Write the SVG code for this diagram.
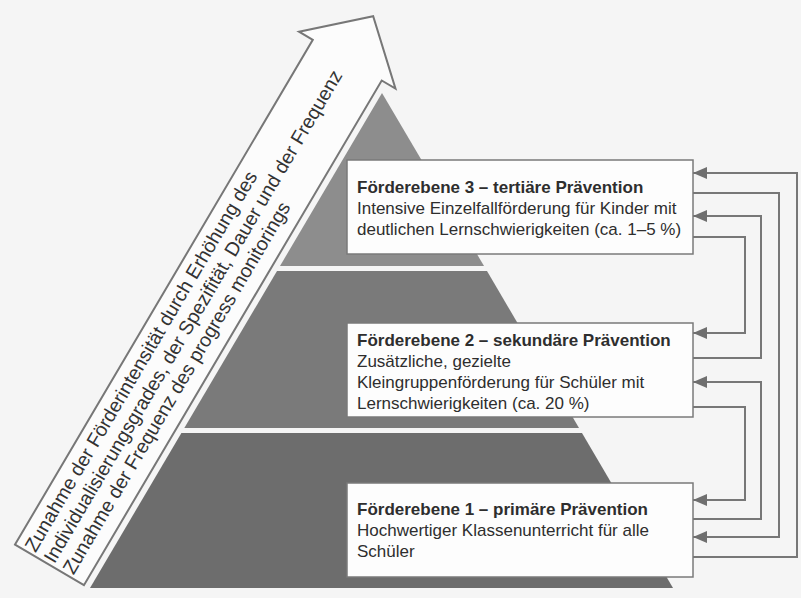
<svg xmlns="http://www.w3.org/2000/svg" width="801" height="598" viewBox="0 0 801 598">
<defs>
<marker id="ah" markerUnits="userSpaceOnUse" markerWidth="14" markerHeight="12" refX="14" refY="6" orient="auto">
<path d="M0,0 L14,6 L0,12 z" fill="#6f6f6f"/>
</marker>
<style>
.t{font-family:"Liberation Sans",Arial,sans-serif;font-size:17px;fill:#2e2e2e}
.b{font-weight:bold}
.box{fill:#fdfdfd;stroke:#7a7a7a;stroke-width:1.5}
.c{fill:none;stroke:#777;stroke-width:2}
.ca{fill:none;stroke:#777;stroke-width:2;marker-end:url(#ah)}
.bt{font-family:"Liberation Sans",Arial,sans-serif;font-size:19.5px;fill:#333}
</style>
</defs>
<rect width="801" height="598" fill="#f5f5f5"/>
<g id="pyramid">
<polygon id="tier1" points="181.4,433 582,433 673,588 90,588" fill="#6d6d6d"/>
<polygon id="tier2" points="277,271 487,271 579,428 184.3,428" fill="#7a7a7a"/>
<polygon id="tier3" points="382,93 484,266 280,266" fill="#8d8d8d"/>
</g>
<g id="arrow-band" transform="translate(13,548) rotate(-59.46)">
<polygon points="4,0 590,0 590,-16 641,40 590,96 590,80 4,80" fill="#fcfcfc" stroke="#777" stroke-width="2" stroke-linejoin="miter"/>
<text class="bt" x="7" y="22">Zunahme der Förderintensität durch Erhöhung des</text>
<text class="bt" x="7" y="44">Individualisierungsgrades, der Spezifität, Dauer und der Frequenz</text>
<text class="bt" x="7" y="66">Zunahme der Frequenz des progress monitorings</text>
</g>
<g id="connectors">
<path class="ca" d="M693,557 H797 V173 H693"/>
<path class="ca" d="M693,193 H779 V537 H693"/>
<path class="ca" d="M693,358 H761 V216 H693"/>
<path class="ca" d="M693,237 H745 V333 H693"/>
<path class="ca" d="M693,519 H761 V382 H693"/>
<path class="ca" d="M693,407 H745 V500 H693"/>
</g>
<g id="box3">
<rect class="box" x="347" y="160" width="346" height="94"/>
<text class="t b" x="357" y="193">Förderebene 3 – tertiäre Prävention</text>
<text class="t" x="357" y="214">Intensive Einzelfallförderung für Kinder mit</text>
<text class="t" x="357" y="235">deutlichen Lernschwierigkeiten (ca. 1–5 %)</text>
</g>
<g id="box2">
<rect class="box" x="347" y="323" width="346" height="94"/>
<text class="t b" x="357" y="346">Förderebene 2 – sekundäre Prävention</text>
<text class="t" x="357" y="367">Zusätzliche, gezielte</text>
<text class="t" x="357" y="388">Kleingruppenförderung für Schüler mit</text>
<text class="t" x="357" y="409">Lernschwierigkeiten (ca. 20 %)</text>
</g>
<g id="box1">
<rect class="box" x="347" y="483" width="346" height="94"/>
<text class="t b" x="357" y="515">Förderebene 1 – primäre Prävention</text>
<text class="t" x="357" y="536">Hochwertiger Klassenunterricht für alle</text>
<text class="t" x="357" y="557">Schüler</text>
</g>
</svg>
